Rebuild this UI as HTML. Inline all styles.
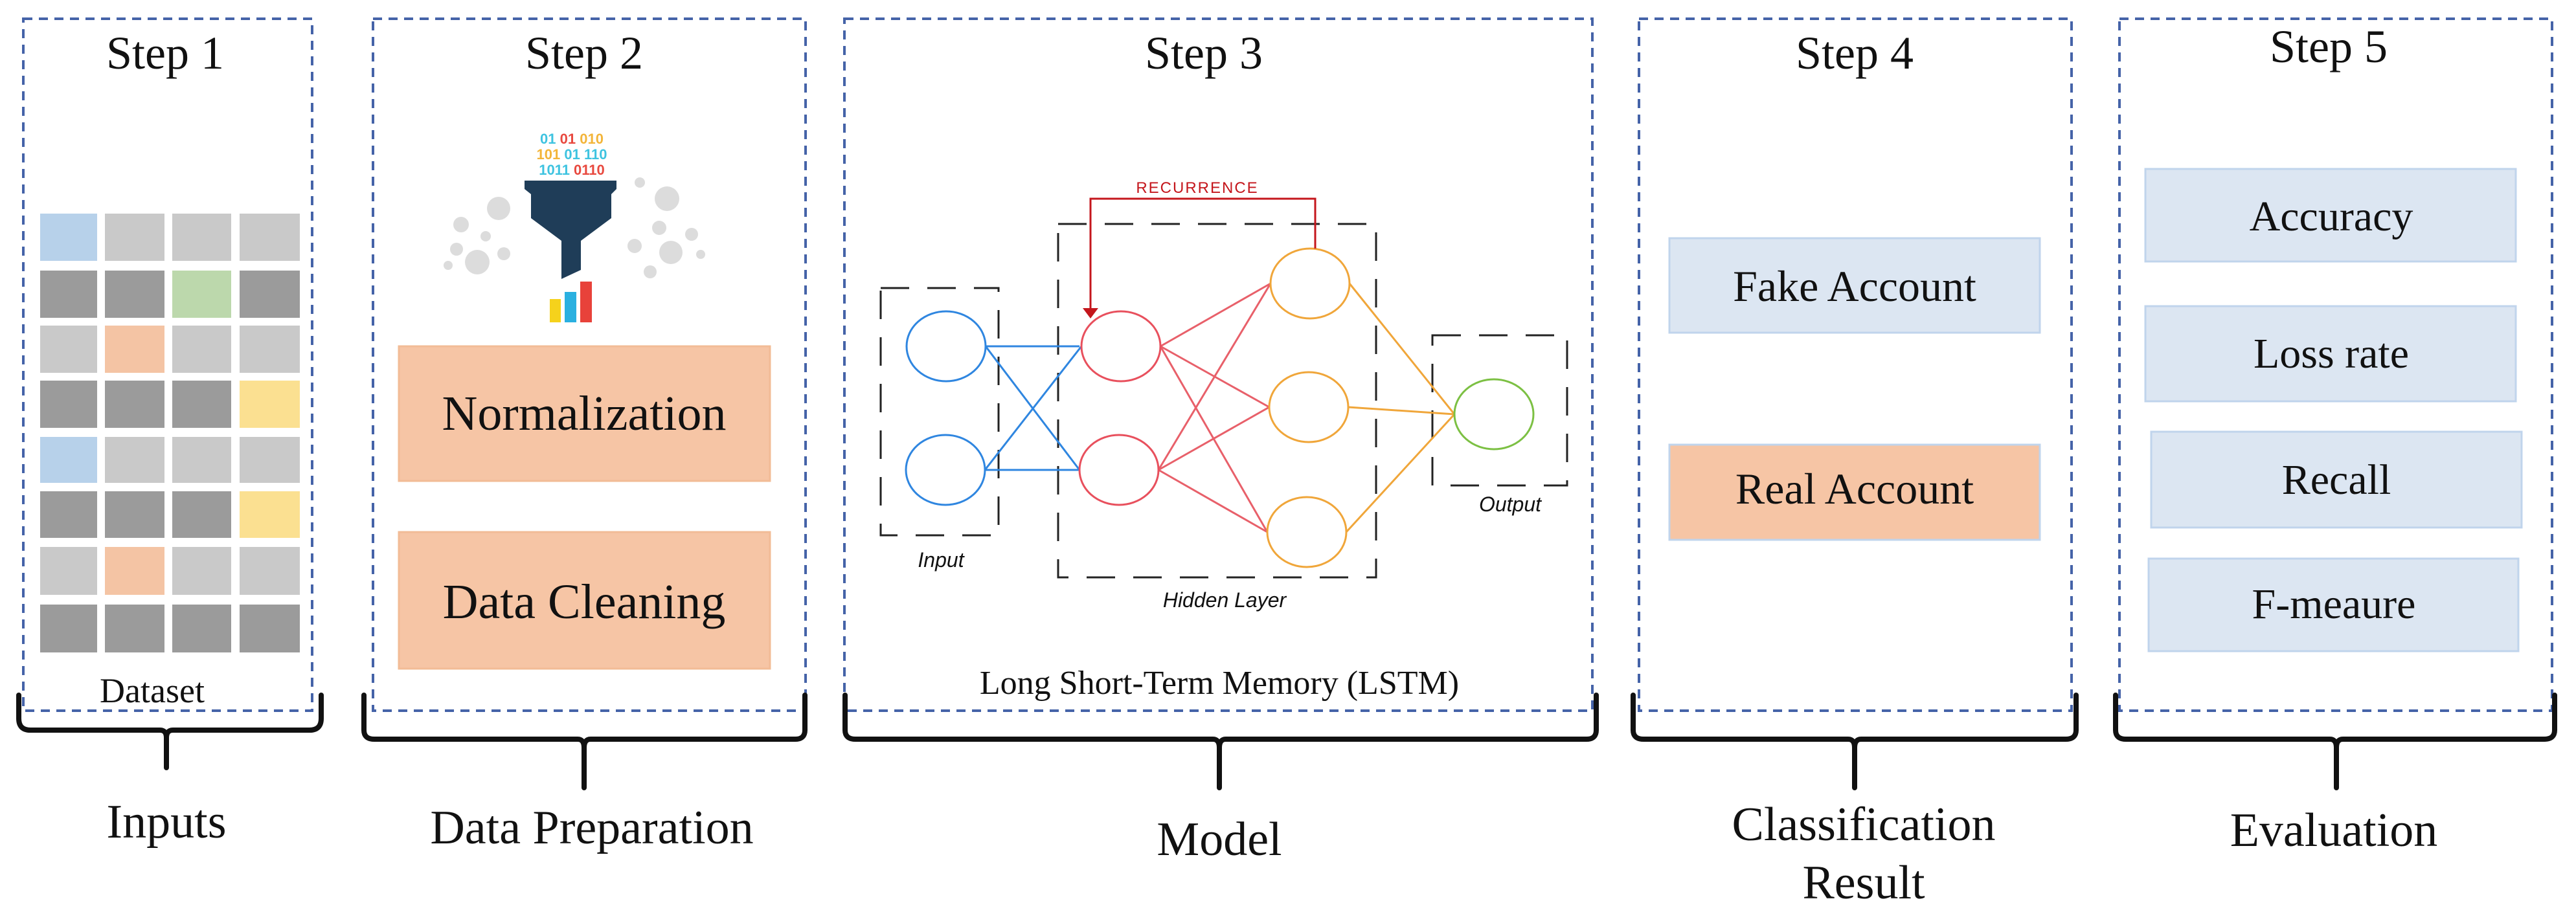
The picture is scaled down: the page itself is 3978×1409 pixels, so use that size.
<!DOCTYPE html>
<html><head><meta charset="utf-8"><style>
html,body{margin:0;padding:0;background:#fff;}
svg{display:block;}
text{font-family:"Liberation Serif",serif;fill:#111;}
</style></head><body>
<svg width="3978" height="1409" viewBox="0 0 3978 1409" xmlns="http://www.w3.org/2000/svg">
<g fill="none" stroke="#4563a8" stroke-width="4" stroke-dasharray="14,10">
<rect x="36" y="29" width="446" height="1069"/>
<rect x="576" y="29" width="668" height="1069"/>
<rect x="1304" y="29" width="1155" height="1069"/>
<rect x="2531" y="29" width="668" height="1069"/>
<rect x="3273" y="29" width="668" height="1069"/>
</g>
<g font-size="72" text-anchor="middle">
<text x="255" y="106">Step 1</text>
<text x="902" y="106">Step 2</text>
<text x="1859" y="106">Step 3</text>
<text x="2864" y="106">Step 4</text>
<text x="3596" y="96">Step 5</text>
</g>
<!-- grid -->
<g>
<g id="r">
</g>
<rect x="62" y="330" width="88" height="73" fill="#b7d1ea"/><rect x="162" y="330" width="92" height="73" fill="#c9c9c9"/><rect x="266" y="330" width="91" height="73" fill="#c9c9c9"/><rect x="370" y="330" width="93" height="73" fill="#c9c9c9"/>
<rect x="62" y="418" width="88" height="73" fill="#9b9b9b"/><rect x="162" y="418" width="92" height="73" fill="#9b9b9b"/><rect x="266" y="418" width="91" height="73" fill="#bcd8ac"/><rect x="370" y="418" width="93" height="73" fill="#9b9b9b"/>
<rect x="62" y="503" width="88" height="73" fill="#c9c9c9"/><rect x="162" y="503" width="92" height="73" fill="#f4c4a4"/><rect x="266" y="503" width="91" height="73" fill="#c9c9c9"/><rect x="370" y="503" width="93" height="73" fill="#c9c9c9"/>
<rect x="62" y="588" width="88" height="73" fill="#9b9b9b"/><rect x="162" y="588" width="92" height="73" fill="#9b9b9b"/><rect x="266" y="588" width="91" height="73" fill="#9b9b9b"/><rect x="370" y="588" width="93" height="73" fill="#fbe091"/>
<rect x="62" y="675" width="88" height="71" fill="#b7d1ea"/><rect x="162" y="675" width="92" height="71" fill="#c9c9c9"/><rect x="266" y="675" width="91" height="71" fill="#c9c9c9"/><rect x="370" y="675" width="93" height="71" fill="#c9c9c9"/>
<rect x="62" y="759" width="88" height="72" fill="#9b9b9b"/><rect x="162" y="759" width="92" height="72" fill="#9b9b9b"/><rect x="266" y="759" width="91" height="72" fill="#9b9b9b"/><rect x="370" y="759" width="93" height="72" fill="#fbe091"/>
<rect x="62" y="845" width="88" height="74" fill="#c9c9c9"/><rect x="162" y="845" width="92" height="74" fill="#f4c4a4"/><rect x="266" y="845" width="91" height="74" fill="#c9c9c9"/><rect x="370" y="845" width="93" height="74" fill="#c9c9c9"/>
<rect x="62" y="934" width="88" height="74" fill="#9b9b9b"/><rect x="162" y="934" width="92" height="74" fill="#9b9b9b"/><rect x="266" y="934" width="91" height="74" fill="#9b9b9b"/><rect x="370" y="934" width="93" height="74" fill="#9b9b9b"/>
</g>
<text x="235" y="1085" font-size="54" text-anchor="middle">Dataset</text>
<!-- funnel -->
<g font-family="Liberation Sans,sans-serif" font-weight="bold" font-size="22" text-anchor="middle">
<text x="883" y="222" fill="#3ec3e0" style="fill:#3ec3e0;font-family:'Liberation Sans',sans-serif">01 <tspan style="fill:#e8493f">01</tspan> <tspan style="fill:#f3b53a">010</tspan></text>
<text x="883" y="246" style="fill:#f3b53a;font-family:'Liberation Sans',sans-serif">101 <tspan style="fill:#3ec3e0">01 110</tspan></text>
<text x="883" y="270" style="fill:#3ec3e0;font-family:'Liberation Sans',sans-serif">1011 <tspan style="fill:#e8493f">0110</tspan></text>
</g>
<g fill="#dcdcdc">
<circle cx="770" cy="322" r="18"/><circle cx="712" cy="347" r="12"/><circle cx="750" cy="365" r="8"/><circle cx="737" cy="405" r="19"/><circle cx="705" cy="385" r="10"/><circle cx="692" cy="410" r="7"/><circle cx="778" cy="392" r="10"/>
<circle cx="1030" cy="307" r="19"/><circle cx="988" cy="282" r="8"/><circle cx="1018" cy="352" r="11"/><circle cx="1068" cy="362" r="10"/><circle cx="980" cy="380" r="11"/><circle cx="1036" cy="390" r="18"/><circle cx="1082" cy="393" r="7"/><circle cx="1004" cy="420" r="10"/>
</g>
<path d="M810 279 H952 V292 L944 300 V337 L897 372 V417 L867 431 V372 L820 337 V300 L810 292 Z" fill="#1f3d58"/>
<rect x="849" y="462" width="17" height="36" fill="#f5d21c"/><rect x="872" y="451" width="18" height="47" fill="#2ab0e0"/><rect x="896" y="435" width="18" height="63" fill="#e8423a"/>
<!-- step2 boxes -->
<rect x="616" y="535" width="573" height="208" fill="#f6c5a5" stroke="#f2bc96" stroke-width="3"/>
<rect x="616" y="822" width="573" height="211" fill="#f6c5a5" stroke="#f2bc96" stroke-width="3"/>
<text x="902" y="664" font-size="76" text-anchor="middle">Normalization</text>
<text x="902" y="955" font-size="76" text-anchor="middle">Data Cleaning</text>
<!-- step3 NN -->
<g fill="none" stroke="#222" stroke-width="3" stroke-dasharray="44,28">
<rect x="1360" y="445" width="182" height="382"/>
<rect x="1634" y="346" width="491" height="546"/>
<rect x="2212" y="518" width="208" height="232"/>
</g>
<g stroke-width="3" fill="none">
<g stroke="#2f86e0"><line x1="1522" y1="535" x2="1667" y2="535"/><line x1="1522" y1="535" x2="1667" y2="726"/><line x1="1521" y1="726" x2="1670" y2="535"/><line x1="1521" y1="726" x2="1667" y2="726"/></g>
<g stroke="#e8606a"><line x1="1792" y1="535" x2="1962" y2="438"/><line x1="1792" y1="535" x2="1960" y2="629"/><line x1="1792" y1="535" x2="1957" y2="822"/><line x1="1789" y1="726" x2="1962" y2="438"/><line x1="1789" y1="726" x2="1960" y2="629"/><line x1="1789" y1="726" x2="1957" y2="822"/></g>
<g stroke="#f0a63a"><line x1="2084" y1="438" x2="2246" y2="640"/><line x1="2082" y1="629" x2="2246" y2="640"/><line x1="2079" y1="822" x2="2246" y2="640"/></g>
<g stroke="#2f86e0" fill="#fff"><ellipse cx="1461" cy="535" rx="61" ry="54"/><ellipse cx="1460" cy="726" rx="61" ry="54"/></g>
<g stroke="#e8505d" fill="#fff"><ellipse cx="1731" cy="535" rx="61" ry="54"/><ellipse cx="1728" cy="726" rx="61" ry="54"/></g>
<g stroke="#f0a63a" fill="#fff"><ellipse cx="2023" cy="438" rx="61" ry="54"/><ellipse cx="2021" cy="629" rx="61" ry="54"/><ellipse cx="2018" cy="822" rx="61" ry="54"/></g>
<ellipse cx="2307" cy="640" rx="61" ry="54" stroke="#7cc043" fill="#fff"/>
<path d="M2031 384 V307 H1684 V478" stroke="#c4161c" stroke-width="3"/>
</g>
<path d="M1672 476 H1696 L1684 492 Z" fill="#c4161c"/>
<g font-family="Liberation Sans,sans-serif" text-anchor="middle">
<text x="1849" y="298" font-size="24" style="fill:#c4161c;font-family:'Liberation Sans',sans-serif;letter-spacing:2px">RECURRENCE</text>
<text x="1453" y="876" font-size="32" style="font-family:'Liberation Sans',sans-serif;font-style:italic">Input</text>
<text x="1891" y="938" font-size="32" style="font-family:'Liberation Sans',sans-serif;font-style:italic">Hidden Layer</text>
<text x="2332" y="790" font-size="32" style="font-family:'Liberation Sans',sans-serif;font-style:italic">Output</text>
</g>
<text x="1883" y="1072" font-size="52" text-anchor="middle">Long Short-Term Memory (LSTM)</text>
<!-- step4 -->
<rect x="2578" y="368" width="572" height="146" fill="#dce6f2" stroke="#c0d4ec" stroke-width="3"/>
<rect x="2578" y="687" width="572" height="147" fill="#f6c5a5" stroke="#c0d4ec" stroke-width="3"/>
<text x="2864" y="465" font-size="68" text-anchor="middle">Fake Account</text>
<text x="2864" y="778" font-size="68" text-anchor="middle">Real Account</text>
<!-- step5 -->
<g fill="#dce6f2" stroke="#c0d4ec" stroke-width="3">
<rect x="3313" y="261" width="572" height="143"/>
<rect x="3313" y="473" width="572" height="147"/>
<rect x="3322" y="667" width="572" height="148"/>
<rect x="3318" y="863" width="571" height="143"/>
</g>
<g font-size="66" text-anchor="middle">
<text x="3600" y="356">Accuracy</text>
<text x="3600" y="568">Loss rate</text>
<text x="3608" y="763">Recall</text>
<text x="3604" y="955">F-meaure</text>
</g>
<!-- braces -->
<g fill="none" stroke="#111" stroke-width="8" stroke-linecap="round">
<path d="M29 1074 V1110 Q29 1128 47 1128 H247 Q257 1128 257 1140 V1186 M257 1140 Q257 1128 267 1128 H478 Q496 1128 496 1110 V1074"/>
<path d="M562 1074 V1128 Q562 1142 578 1142 H892 Q902 1142 902 1155 V1217 M902 1155 Q902 1142 912 1142 H1228 Q1243 1142 1243 1128 V1074"/>
<path d="M1305 1074 V1128 Q1305 1142 1321 1142 H1873 Q1883 1142 1883 1155 V1217 M1883 1155 Q1883 1142 1893 1142 H2450 Q2465 1142 2465 1128 V1074"/>
<path d="M2522 1074 V1128 Q2522 1142 2538 1142 H2854 Q2864 1142 2864 1155 V1217 M2864 1155 Q2864 1142 2874 1142 H3190 Q3206 1142 3206 1128 V1074"/>
<path d="M3267 1074 V1128 Q3267 1142 3283 1142 H3598 Q3608 1142 3608 1155 V1217 M3608 1155 Q3608 1142 3618 1142 H3929 Q3945 1142 3945 1128 V1074"/>
</g>
<g font-size="74" text-anchor="middle">
<text x="257" y="1294">Inputs</text>
<text x="914" y="1303">Data Preparation</text>
<text x="1883" y="1321">Model</text>
<text x="2878" y="1298">Classification</text>
<text x="2878" y="1388">Result</text>
<text x="3604" y="1307">Evaluation</text>
</g>
</svg>
</body></html>
